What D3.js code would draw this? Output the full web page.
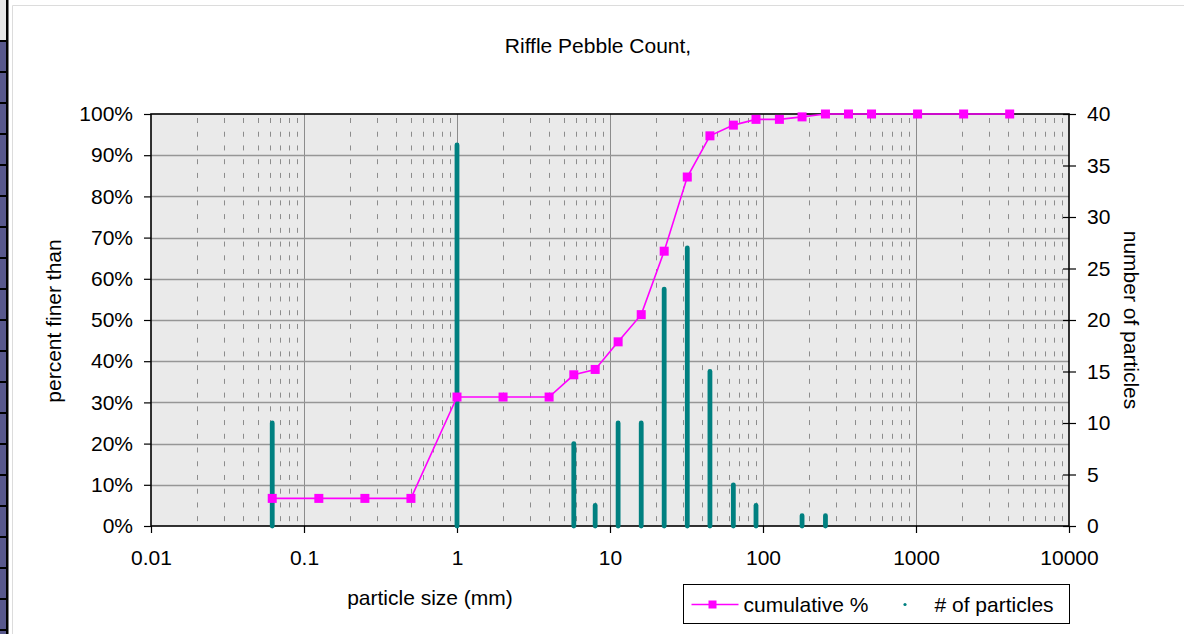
<!DOCTYPE html>
<html>
<head>
<meta charset="utf-8">
<script src="https://cdn.jsdelivr.net/npm/d3@7"></script>
<style>
  body { margin: 0; background: #fff; }
  svg { display: block; font-family: "Liberation Sans", Arial, sans-serif; }
  .axis text { font-size: 21px; fill: #000; }
  .axis line { stroke: #000; stroke-width: 1.2; }
  .axis path { display: none; }
</style>
</head>
<body>
<div id="chart"></div>
<script>
// ------------------------------------------
//  Data
// ------------------------------------------
const sizes = [0.062, 0.125, 0.25, 0.5, 1, 2, 4, 5.8, 8, 11.3, 16, 22.6, 32, 45, 64, 90, 128, 180, 256, 362, 512, 1024, 2048, 4096]
const cumulative = [6.7, 6.7, 6.7, 6.7, 31.3, 31.3, 31.3, 36.7, 38.0, 44.7, 51.3, 66.7, 84.7, 94.7, 97.3, 98.7, 98.7, 99.3, 100, 100, 100, 100, 100, 100]
const counts = [10, 0, 0, 0, 37, 0, 0, 8, 2, 10, 10, 23, 27, 15, 4, 2, 0, 1, 1, 0, 0, 0, 0, 0]

const xTicks = [0.01, 0.1, 1, 10, 100, 1000, 10000]
const xTickLabels = ["0.01", "0.1", "1", "10", "100", "1000", "10000"]
const pctTicks = [0, 0.1, 0.2, 0.3, 0.4, 0.5, 0.6, 0.7, 0.8, 0.9, 1]
const countTicks = [0, 5, 10, 15, 20, 25, 30, 35, 40]

const title = "Riffle Pebble Count,"
const xTitle = "particle size (mm)"
const yTitle = "percent finer than"
const y2Title = "number of particles"
const legendNames = ["cumulative %", "# of particles"]

// ------------------------------------------
//  Setup
// ------------------------------------------
const W = 1184, H = 634
const plot = { left: 151, right: 1069, top: 114, bottom: 526 }
const magenta = "#ff00ff", teal = "#008080"

const svg = d3.select("#chart").append("svg").attr("width", W).attr("height", H)

const x = d3.scaleLog().domain([0.01, 10000]).range([plot.left, plot.right])
const yL = d3.scaleLinear().domain([0, 1]).range([plot.bottom, plot.top])
const yR = d3.scaleLinear().domain([0, 40]).range([plot.bottom, plot.top])

// window chrome on the left (neighbouring sheet pane)
svg.append("rect").attr("x", 0).attr("y", 0).attr("width", 6).attr("height", H).attr("fill", "#58588c")
svg.append("rect").attr("x", 0).attr("y", 0).attr("width", 6).attr("height", 41).attr("fill", "#e6e6e6")
svg.selectAll(".cell").data(d3.range(41, H, 31)).enter().append("line")
    .attr("x1", 0).attr("x2", 7).attr("y1", d => d).attr("y2", d => d)
    .attr("stroke", "#000").attr("stroke-width", 2)
svg.append("rect").attr("x", 6).attr("y", 0).attr("width", 2.5).attr("height", H).attr("fill", "#000")
svg.append("line").attr("x1", 12.5).attr("x2", 12.5).attr("y1", 5.5).attr("y2", H).attr("stroke", "#dcdcdc")
svg.append("line").attr("x1", 12.5).attr("x2", W).attr("y1", 5.5).attr("y2", 5.5).attr("stroke", "#dcdcdc")

// ------------------------------------------
//  Plot area + grid
// ------------------------------------------
svg.append("rect")
    .attr("x", plot.left).attr("y", plot.top)
    .attr("width", plot.right - plot.left).attr("height", plot.bottom - plot.top)
    .attr("fill", "#eaeaea")

const minors = []
for (let e = -2; e < 4; e++) for (let k = 2; k < 10; k++) minors.push(k * 10 ** e)

svg.append("g").selectAll("line").data(minors).enter().append("line")
    .attr("x1", d => Math.round(x(d)) + 0.5).attr("x2", d => Math.round(x(d)) + 0.5)
    .attr("y1", plot.top + 4).attr("y2", plot.bottom)
    .attr("stroke", "#8c8c8c").attr("stroke-dasharray", "5,8.73")

svg.append("g").selectAll("line").data(xTicks.slice(1, -1)).enter().append("line")
    .attr("x1", d => Math.round(x(d)) + 0.5).attr("x2", d => Math.round(x(d)) + 0.5)
    .attr("y1", plot.top).attr("y2", plot.bottom)
    .attr("stroke", "#8c8c8c")

svg.append("g").selectAll("line").data(pctTicks.slice(1, -1)).enter().append("line")
    .attr("x1", plot.left).attr("x2", plot.right)
    .attr("y1", d => Math.round(yL(d)) + 0.5).attr("y2", d => Math.round(yL(d)) + 0.5)
    .attr("stroke", "#969696").attr("stroke-width", 1.3)

svg.append("rect")
    .attr("x", plot.left).attr("y", plot.top)
    .attr("width", plot.right - plot.left).attr("height", plot.bottom - plot.top)
    .attr("fill", "none").attr("stroke", "#000").attr("stroke-width", 1.6)

// ------------------------------------------
//  Axes
// ------------------------------------------
svg.append("g").attr("class", "axis")
    .attr("transform", `translate(${plot.left},0)`)
    .call(d3.axisLeft(yL).tickValues(pctTicks).tickFormat(d3.format(".0%")).tickSize(7).tickPadding(11))

svg.append("g").attr("class", "axis")
    .attr("transform", `translate(0,${plot.bottom})`)
    .call(d3.axisBottom(x).tickValues(xTicks).tickFormat((d, i) => xTickLabels[i]).tickSize(7).tickPadding(17))

const right = svg.append("g").attr("class", "axis")
    .attr("transform", `translate(${plot.right},0)`)
    .call(d3.axisRight(yR).tickValues(countTicks).tickSize(7).tickPadding(11))
right.selectAll(".tick line").attr("x1", -6)

// ------------------------------------------
//  Series
// ------------------------------------------
const bars = sizes.map((s, i) => [s, counts[i]]).filter(d => d[1] > 0)
svg.append("g").selectAll("line").data(bars).enter().append("line")
    .attr("x1", d => x(d[0])).attr("x2", d => x(d[0]))
    .attr("y1", yR(0)).attr("y2", d => yR(d[1]))
    .attr("stroke", teal).attr("stroke-width", 4.8).attr("stroke-linecap", "round")

const pts = sizes.map((s, i) => [s, cumulative[i] / 100])
svg.append("path").datum(pts)
    .attr("fill", "none").attr("stroke", magenta).attr("stroke-width", 1.6)
    .attr("d", d3.line().x(d => x(d[0])).y(d => yL(d[1])))

svg.append("g").selectAll("rect").data(pts).enter().append("rect")
    .attr("x", d => x(d[0]) - 4.5).attr("y", d => yL(d[1]) - 4.5)
    .attr("width", 9).attr("height", 9).attr("fill", magenta)

// ------------------------------------------
//  Titles
// ------------------------------------------
svg.append("text").attr("x", 598).attr("y", 53).attr("text-anchor", "middle")
    .attr("font-size", 21).text(title)
svg.append("text").attr("x", 430).attr("y", 605).attr("text-anchor", "middle")
    .attr("font-size", 21).text(xTitle)
svg.append("text").attr("transform", "translate(61,321) rotate(-90)").attr("text-anchor", "middle")
    .attr("font-size", 21).text(yTitle)
svg.append("text").attr("transform", "translate(1124,320) rotate(90)").attr("text-anchor", "middle")
    .attr("font-size", 21).text(y2Title)

// ------------------------------------------
//  Legend
// ------------------------------------------
const lg = svg.append("g").attr("transform", "translate(683.5,584.5)")
lg.append("rect").attr("width", 386).attr("height", 39).attr("fill", "#fff").attr("stroke", "#000")
lg.append("line").attr("x1", 8).attr("x2", 55).attr("y1", 20).attr("y2", 20)
    .attr("stroke", magenta).attr("stroke-width", 1.6)
lg.append("rect").attr("x", 25).attr("y", 16).attr("width", 8).attr("height", 8).attr("fill", magenta)
lg.append("text").attr("x", 60).attr("y", 27).attr("font-size", 21).text(legendNames[0])
lg.append("circle").attr("cx", 221.5).attr("cy", 20).attr("r", 1.6).attr("fill", teal)
lg.append("text").attr("x", 251).attr("y", 27).attr("font-size", 21).text(legendNames[1])
</script>
</body>
</html>
